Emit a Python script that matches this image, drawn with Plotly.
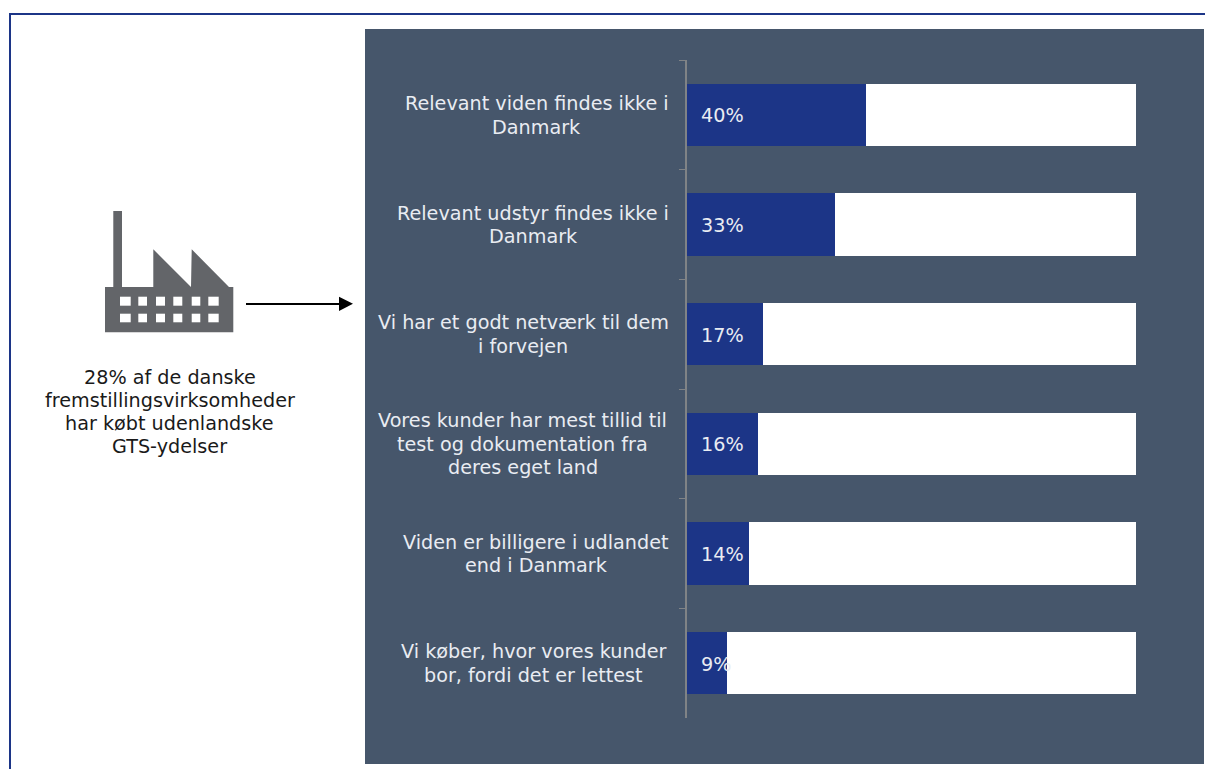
import plotly.graph_objects as go

# Survey results: why manufacturers buy technology services abroad
categories = [
    "Relevant viden findes ikke i<br>Danmark",
    "Relevant udstyr findes ikke i<br>Danmark",
    "Vi har et godt netværk til dem<br>i forvejen",
    "Vores kunder har mest tillid til<br>test og dokumentation fra<br>deres eget land",
    "Viden er billigere i udlandet<br>end i Danmark",
    "Vi køber, hvor vores kunder<br>bor, fordi det er lettest",
]
shares = [40, 33, 17, 16, 14, 9]
remainder = [60, 67, 83, 84, 86, 91]
side_note = ["28% af de danske", "fremstillingsvirksomheder", "har købt udenlandske", "GTS-ydelser"]

W, H = 1205, 769
FONT = "DejaVu Sans"
FONT_SIZE = 19.2
NAVY = "#1c3587"
PANEL = "#46566b"
ICON = "#636569"
AXIS = "#808386"
TEXT_LIGHT = "#e9ecf2"
LINE_STEP = 23.4
AXIS_X = 686.5
# horizontal centre of each wrapped category label, in page pixels
LABEL_CENTRES = [536.5, 533, 523, 522.5, 536, 533.5]


def px(x):
    return x / W


def py(y):
    return 1 - y / H


def rect(x0, y0, x1, y1, color):
    return dict(type="rect", xref="paper", yref="paper", x0=px(x0), x1=px(x1),
                y0=py(y1), y1=py(y0), fillcolor=color, line_width=0, layer="below")


def polygon(points, color):
    path = "M " + " L ".join(f"{px(x):.5f},{py(y):.5f}" for x, y in points) + " Z"
    return dict(type="path", xref="paper", yref="paper", path=path,
                fillcolor=color, line_width=0, layer="below")


shapes = [
    # page frame and dark panel
    rect(9, 13, 1205, 15, NAVY),
    rect(9, 13, 11, 769, NAVY),
    rect(365, 29, 1204, 764, PANEL),
    # factory silhouette
    polygon([(105, 332.3), (105, 287), (113.3, 287), (113.3, 211), (122, 211), (122, 287),
             (153.3, 287), (153.3, 249.3), (191, 287), (191.7, 249.3), (229, 287),
             (233.3, 287), (233.3, 332.3)], ICON),
    # arrow towards the panel
    rect(246, 303, 340, 305, "#000000"),
    polygon([(339, 296.7), (353, 303.8), (339, 310.9)], "#000000"),
]
for top, bottom in [(296.7, 305.7), (313.7, 322.3)]:
    for left, right in [(120, 130.7), (138.3, 147), (156, 165),
                        (173.3, 182.3), (191.7, 200.3), (208.3, 218.7)]:
        shapes.append(rect(left, top, right, bottom, "#ffffff"))

fig = go.Figure()
fig.add_bar(y=categories, x=shares, orientation="h", marker=dict(color=NAVY, line_width=0))
fig.add_bar(y=categories, x=remainder, orientation="h", marker=dict(color="#ffffff", line_width=0))

annotations = []
for i, line in enumerate(side_note):
    annotations.append(dict(xref="paper", yref="paper", x=px(169.5), y=py(377 + i * 23), text=line,
                            showarrow=False, xanchor="center", yanchor="middle",
                            font=dict(family=FONT, size=FONT_SIZE, color="#1a1a1a")))

# Wrapped labels are placed line by line to control the line spacing
for category, share, centre in zip(categories, shares, LABEL_CENTRES):
    lines = category.split("<br>")
    for i, line in enumerate(lines):
        annotations.append(dict(xref="x", yref="y", x=0, y=category, text=line, showarrow=False,
                                xanchor="center", yanchor="middle", xshift=centre - AXIS_X,
                                yshift=-((i - (len(lines) - 1) / 2) * LINE_STEP) - 0.5,
                                font=dict(family=FONT, size=FONT_SIZE, color=TEXT_LIGHT)))
    annotations.append(dict(xref="x", yref="y", x=0, y=category, text=f"{share}%", showarrow=False,
                            xanchor="left", yanchor="middle", xshift=12, yshift=-1,
                            font=dict(family=FONT, size=FONT_SIZE, color=TEXT_LIGHT)))

fig.update_layout(
    width=W, height=H, margin=dict(l=0, r=0, t=0, b=0), autosize=False,
    paper_bgcolor="#ffffff", plot_bgcolor="rgba(0,0,0,0)",
    barmode="stack", bargap=0.43, showlegend=False,
    shapes=shapes, annotations=annotations,
    xaxis=dict(domain=[px(AXIS_X), px(1136)], range=[0, 100], visible=False),
    yaxis=dict(domain=[py(718), py(60)], autorange="reversed", type="category",
               showticklabels=False, tickson="boundaries", ticks="outside", ticklen=6,
               tickcolor=AXIS, tickwidth=1, showline=True, linecolor=AXIS, linewidth=1.5,
               showgrid=False, zeroline=False),
)

fig.write_html("out.html")
